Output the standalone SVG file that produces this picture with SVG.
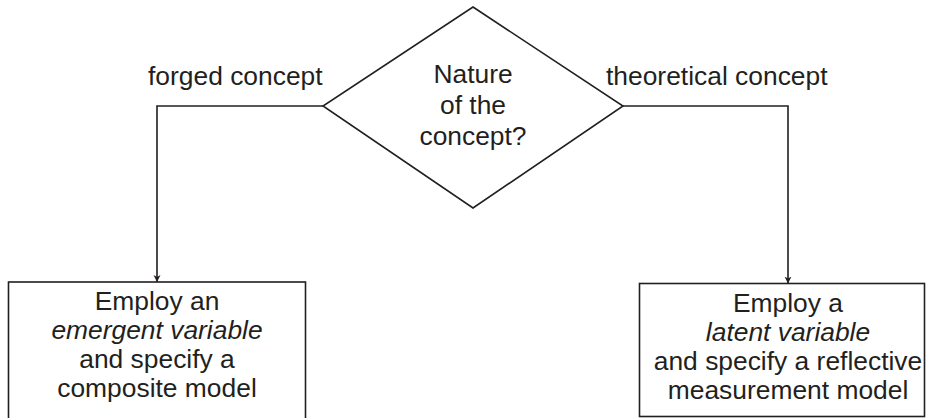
<svg xmlns="http://www.w3.org/2000/svg" width="926" height="418" viewBox="0 0 926 418">
  <defs>
    <style>
      .shape { fill: #ffffff; stroke: #231f20; stroke-width: 1.6; }
      .wire { fill: none; stroke: #231f20; stroke-width: 1.6; }
      .txt { font-family: "Liberation Sans", Arial, sans-serif; font-size: 26.4px; fill: #231f20; text-anchor: middle; }
      .lbl { font-family: "Liberation Sans", Arial, sans-serif; font-size: 26.4px; fill: #231f20; }
      .em { font-style: italic; }
    </style>
    <marker id="arrow" viewBox="0 0 10 10" refX="10" refY="5" markerWidth="7" markerHeight="9" markerUnits="userSpaceOnUse" orient="auto">
      <path d="M0,0 L10,5 L0,10 L3,5 Z" fill="#231f20"/>
    </marker>
  </defs>
  <rect width="926" height="418" fill="#ffffff"/>

  <!-- decision -->
  <g id="decision">
    <polygon class="shape" points="473,7 623,106 473,208 323,106"/>
    <text class="txt" x="473" y="83">Nature</text>
    <text class="txt" x="473" y="114">of the</text>
    <text class="txt" x="473" y="145">concept?</text>
  </g>

  <!-- branches -->
  <g id="connectors">
    <polyline class="wire" points="323,106 157,106 157,282" marker-end="url(#arrow)"/>
    <polyline class="wire" points="623,106 788,106 788,283.5" marker-end="url(#arrow)"/>
    <text class="lbl" x="148" y="85">forged concept</text>
    <text class="lbl" x="606" y="85">theoretical concept</text>
  </g>

  <!-- outcome: composite model -->
  <g id="emergent">
    <rect class="shape" x="8.5" y="282" width="297" height="145"/>
    <text class="txt" x="157" y="310">Employ an</text>
    <text class="txt em" x="157" y="339">emergent variable</text>
    <text class="txt" x="157" y="368">and specify a</text>
    <text class="txt" x="157" y="397">composite model</text>
  </g>

  <!-- outcome: reflective measurement model -->
  <g id="latent">
    <rect class="shape" x="639.5" y="283.5" width="285" height="133"/>
    <text class="txt" x="788" y="312">Employ a</text>
    <text class="txt em" x="788" y="341">latent variable</text>
    <text class="txt" x="788" y="370">and specify a reflective</text>
    <text class="txt" x="788" y="399">measurement model</text>
  </g>
</svg>
